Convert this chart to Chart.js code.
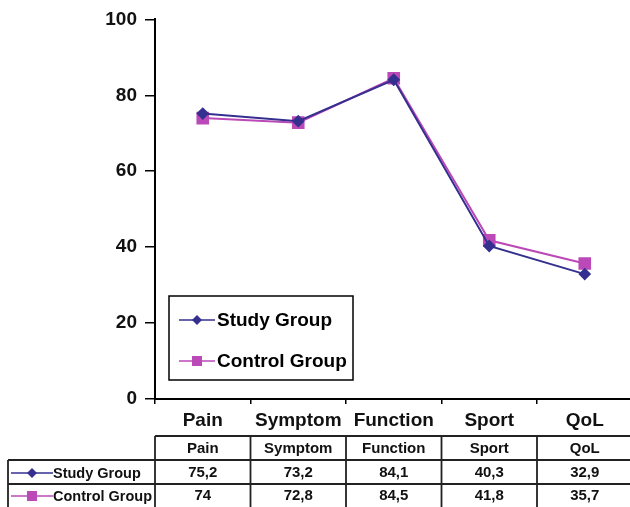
<!DOCTYPE html>
<html>
<head>
<meta charset="utf-8">
<script src="https://cdn.jsdelivr.net/npm/chart.js@4/dist/chart.umd.min.js"></script>
<style>
  html, body { margin: 0; padding: 0; background: #fff; }
  #wrap { width: 630px; height: 507px; position: relative; overflow: hidden; }
</style>
</head>
<body>
<div id="wrap"><canvas id="myChart" width="642" height="507"></canvas></div>
<script>
// datos
var categorias = ["Pain", "Symptom", "Function", "Sport", "QoL"];
var studyGroup = [75.2, 73.2, 84.1, 40.3, 32.9];
var controlGroup = [74, 72.8, 84.5, 41.8, 35.7];
var textoStudy = ["75,2", "73,2", "84,1", "40,3", "32,9"];
var textoControl = ["74", "72,8", "84,5", "41,8", "35,7"];
var yTicks = [0, 20, 40, 60, 80, 100];

var colorStudy = "#35308f";
var colorControl = "#bb49b8";
var fuente = "'Liberation Sans', Arial, sans-serif";

// dibuja el icono de la serie (linea + marcador)
function icono(ctx, ds, x, y, w) {
  ctx.save();
  ctx.strokeStyle = ds.borderColor;
  ctx.lineWidth = 1.5;
  ctx.beginPath();
  ctx.moveTo(x, y);
  ctx.lineTo(x + w, y);
  ctx.stroke();
  ctx.fillStyle = ds.backgroundColor;
  var cx = x + w / 2;
  if (ds.pointStyle === "rectRot") {
    ctx.beginPath();
    ctx.moveTo(cx, y - 5);
    ctx.lineTo(cx + 5, y);
    ctx.lineTo(cx, y + 5);
    ctx.lineTo(cx - 5, y);
    ctx.closePath();
    ctx.fill();
  } else {
    ctx.fillRect(cx - 5, y - 5, 10, 10);
  }
  ctx.restore();
}

// leyenda dentro del grafico y tabla de datos abajo
var extras = {
  id: "extras",
  afterDraw: function (chart) {
    var ctx = chart.ctx;
    var area = chart.chartArea;
    var xs = chart.scales.x;
    var ds = chart.data.datasets;

    // leyenda
    var lx = area.left + 14, ly = 296, lw = 184, lh = 84;
    ctx.save();
    ctx.strokeStyle = "#000";
    ctx.lineWidth = 1.5;
    ctx.strokeRect(lx, ly, lw, lh);
    ctx.font = "bold 19px " + fuente;
    ctx.fillStyle = "#000";
    ctx.textBaseline = "middle";
    for (var i = 0; i < ds.length; i++) {
      var yy = ly + 24 + i * 41;
      icono(ctx, ds[i], lx + 10, yy, 36);
      ctx.fillText(ds[i].label, lx + 48, yy + 1);
    }
    ctx.restore();

    // tabla
    var ancho = xs.getPixelForValue(1) - xs.getPixelForValue(0);
    var bordes = [];
    for (var k = 0; k <= categorias.length; k++) {
      bordes.push(xs.getPixelForValue(0) - ancho / 2 + k * ancho);
    }
    var t0 = 436, t1 = 460, t2 = 484, t3 = 508;
    var izq = 8;
    var der = 634;
    ctx.save();
    ctx.strokeStyle = "#222";
    ctx.lineWidth = 1.8;
    ctx.beginPath();
    ctx.moveTo(bordes[0], t0); ctx.lineTo(der, t0);
    ctx.moveTo(izq, t1); ctx.lineTo(der, t1);
    ctx.moveTo(izq, t2); ctx.lineTo(der, t2);
    ctx.moveTo(izq, t1); ctx.lineTo(izq, t3);
    for (var b = 0; b < bordes.length; b++) {
      ctx.moveTo(bordes[b], t0); ctx.lineTo(bordes[b], t3);
    }
    ctx.stroke();

    ctx.fillStyle = "#111";
    ctx.textAlign = "center";
    ctx.textBaseline = "middle";
    ctx.font = "bold 15px " + fuente;
    var filas = [textoStudy, textoControl];
    for (var c = 0; c < categorias.length; c++) {
      var cx = xs.getPixelForValue(c);
      ctx.fillText(categorias[c], cx, (t0 + t1) / 2 + 1);
      ctx.fillText(filas[0][c], cx, (t1 + t2) / 2 + 1);
      ctx.fillText(filas[1][c], cx, (t2 + t3) / 2);
    }
    ctx.textAlign = "left";
    ctx.font = "bold 14.5px " + fuente;
    for (var r = 0; r < ds.length; r++) {
      var ry = r === 0 ? (t1 + t2) / 2 + 1 : (t2 + t3) / 2;
      icono(ctx, ds[r], izq + 3, ry, 42);
      ctx.fillText(ds[r].label, izq + 45, ry + 1, bordes[0] - izq - 48);
    }
    ctx.restore();
  }
};

var ctx = document.getElementById("myChart").getContext("2d");
var myChart = new Chart(ctx, {
  type: "line",
  data: {
    labels: categorias,
    datasets: [{
      label: "Study Group",
      data: studyGroup,
      borderColor: colorStudy,
      backgroundColor: colorStudy,
      borderWidth: 2,
      pointStyle: "rectRot",
      pointRadius: 5,
      pointHoverRadius: 5,
      tension: 0
    }, {
      label: "Control Group",
      data: controlGroup,
      borderColor: colorControl,
      backgroundColor: colorControl,
      borderWidth: 2,
      pointStyle: "rect",
      pointRadius: 7.5,
      pointHoverRadius: 7.5,
      tension: 0
    }]
  },
  options: {
    responsive: false,
    animation: false,
    layout: { padding: { left: 0, right: 0, top: 18, bottom: 72 } },
    plugins: {
      legend: { display: false },
      tooltip: { enabled: false }
    },
    scales: {
      x: {
        offset: true,
        grid: { offset: true, drawOnChartArea: false, tickLength: 5, color: "#000", lineWidth: 1.5 },
        border: { color: "#000", width: 2 },
        ticks: { color: "#111", font: { family: fuente, size: 19, weight: "bold" }, padding: 5, maxRotation: 0 },
        afterFit: function (s) { s.height = 36; }
      },
      y: {
        min: 0,
        max: 100,
        afterBuildTicks: function (s) { s.ticks = yTicks.map(function (v) { return { value: v }; }); },
        grid: { drawOnChartArea: false, tickLength: 10, color: "#000", lineWidth: 1.5 },
        border: { color: "#000", width: 2 },
        ticks: { color: "#111", font: { family: fuente, size: 19, weight: "bold" }, padding: 8 },
        afterFit: function (s) { s.width = 155; }
      }
    }
  },
  plugins: [extras]
});
</script>
</body>
</html>
